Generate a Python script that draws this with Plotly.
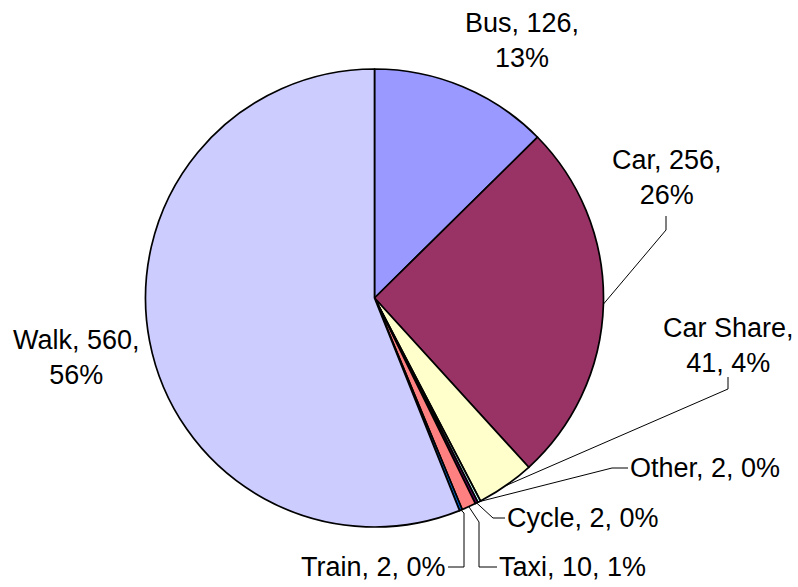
import math
import plotly.graph_objects as go

modes = ['Bus', 'Car', 'Car Share', 'Other', 'Cycle', 'Taxi', 'Train', 'Walk']
counts = [126, 256, 41, 2, 2, 10, 2, 560]
colours = ['#9999FF', '#993366', '#FFFFCC', '#CCFFFF', '#660066', '#FF8080', '#0066CC', '#CCCCFF']

W, H = 798, 587
cx, cy, r = 374.5, 298, 229

# label placement (pixels): x, y, anchor, line-break style, elbow points of leader line
labels = {
    'Bus':       dict(x=522, y=40,  anchor='center', br=2, elbow=None),
    'Car':       dict(x=667, y=177, anchor='center', br=2, elbow=[(666, 216), (666, 230)]),
    'Car Share': dict(x=728, y=345, anchor='center', br=1, elbow=[(728, 377), (728, 389)]),
    'Other':     dict(x=628, y=468, anchor='left',   br=0, elbow=[(628, 468), (612, 468)]),
    'Cycle':     dict(x=505, y=518, anchor='left',   br=0, elbow=[(505, 518), (493, 518)]),
    'Taxi':      dict(x=497, y=567, anchor='left',   br=0, elbow=[(497, 567), (479, 567), (479, 522)]),
    'Train':     dict(x=448, y=567, anchor='right',  br=0, elbow=[(448, 567), (464, 567), (464, 513)]),
    'Walk':      dict(x=76,  y=357, anchor='center', br=2, elbow=None),
}

def px(x, y):
    return x / W, 1 - y / H

total = sum(counts)
fig = go.Figure(go.Pie(
    labels=modes, values=counts, sort=False, direction='clockwise', rotation=0,
    marker=dict(colors=colours, line=dict(color='black', width=1.7)),
    textinfo='none', hoverinfo='skip', showlegend=False,
    domain=dict(x=[(cx - r) / W, (cx + r) / W], y=[(H - cy - r) / H, (H - cy + r) / H]),
))

annotations = []
shapes = []
cum = 0
for m, v in zip(modes, counts):
    mid = (cum + v / 2) / total * 2 * math.pi
    cum += v
    lab = labels[m]
    pct = f'{round(v / total * 100)}%'
    if lab['br'] == 2:
        txt = f'{m}, {v},<br>{pct}'
    elif lab['br'] == 1:
        txt = f'{m},<br>{v}, {pct}'
    else:
        txt = f'{m}, {v}, {pct}'
    ax, ay = px(lab['x'], lab['y'])
    annotations.append(dict(x=ax, y=ay, xref='paper', yref='paper', text=txt, showarrow=False,
                            xanchor=lab['anchor'], yanchor='middle', align='center',
                            font=dict(family='Liberation Sans, Arial', size=27, color='black')))
    if lab['elbow']:
        pts = lab['elbow'] + [(cx + r * math.sin(mid), cy - r * math.cos(mid))]
        for (x0, y0), (x1, y1) in zip(pts[:-1], pts[1:]):
            p0, p1 = px(x0, y0), px(x1, y1)
            shapes.append(dict(type='line', xref='paper', yref='paper',
                               x0=p0[0], y0=p0[1], x1=p1[0], y1=p1[1],
                               line=dict(color='black', width=1)))

fig.update_layout(width=W, height=H, margin=dict(l=0, r=0, t=0, b=0),
                  paper_bgcolor='white', plot_bgcolor='white',
                  annotations=annotations, shapes=shapes)
fig.write_html('out.html', config={'displayModeBar': False},
               post_script="document.body.style.margin='0';document.body.style.overflow='hidden';")
